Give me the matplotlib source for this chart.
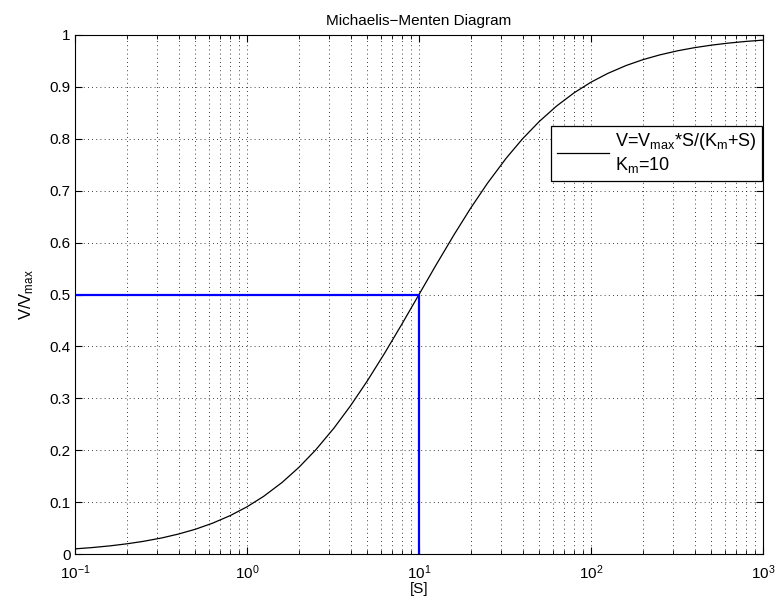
import matplotlib
matplotlib.use('Agg')
import matplotlib.pyplot as plt
from matplotlib.ticker import LogLocator, FixedLocator, NullFormatter

plt.rcParams['font.family'] = ['Liberation Sans', 'DejaVu Sans']
plt.rcParams['mathtext.fontset'] = 'custom'
plt.rcParams['mathtext.rm'] = 'Liberation Sans'
plt.rcParams['mathtext.it'] = 'Liberation Sans'
plt.rcParams['mathtext.default'] = 'regular'

# substrate concentration [S] and relative rate V/Vmax (Km = 10)
s_vals = [0.1, 0.125, 0.16, 0.2, 0.25, 0.32, 0.4, 0.5, 0.63, 0.8,
          1, 1.25, 1.6, 2, 2.5, 3.2, 4, 5, 6.3, 8,
          10, 12.5, 16, 20, 25, 32, 40, 50, 63, 80,
          100, 125, 160, 200, 250, 320, 400, 500, 630, 800, 1000]
v_vals = [0.0099, 0.0123, 0.0157, 0.0196, 0.0244, 0.0310, 0.0385, 0.0476, 0.0593, 0.0741,
          0.0909, 0.1111, 0.1379, 0.1667, 0.2, 0.2424, 0.2857, 0.3333, 0.3865, 0.4444,
          0.5, 0.5556, 0.6154, 0.6667, 0.7143, 0.7619, 0.8, 0.8333, 0.8630, 0.8889,
          0.9091, 0.9259, 0.9412, 0.9524, 0.9615, 0.9697, 0.9756, 0.9804, 0.9844, 0.9877, 0.9901]

# half-saturation marker: S = Km, V = 0.5
km_x = [0.1, 10, 10]
km_y = [0.5, 0.5, 0]

y_ticks = [0, 0.1, 0.2, 0.3, 0.4, 0.5, 0.6, 0.7, 0.8, 0.9, 1]
y_labels = ['0', '0.1', '0.2', '0.3', '0.4', '0.5', '0.6', '0.7', '0.8', '0.9', '1']

fig = plt.figure(figsize=(7.77, 6.08), dpi=100)
ax = fig.add_axes([75 / 777, 54 / 608, 688 / 777, 519 / 608])

ax.plot(s_vals, v_vals, color='k', lw=0.9,
        label='V=V$_{max}$*S/(K$_m$+S)\nK$_m$=10')
ax.plot(km_x, km_y, color='#0000ff', lw=1.6)

ax.set_xscale('log')
ax.set_xlim(0.1, 1000)
ax.set_ylim(0, 1)
ax.yaxis.set_major_locator(FixedLocator(y_ticks))
ax.set_yticklabels(y_labels)
ax.xaxis.set_major_locator(LogLocator(base=10, numticks=10))
ax.xaxis.set_minor_locator(LogLocator(base=10, subs=range(2, 10), numticks=50))
ax.xaxis.set_minor_formatter(NullFormatter())

grid_style = dict(color='k', linestyle=(0, (1, 4)), linewidth=0.6)
ax.grid(True, which='major', **grid_style)
ax.grid(True, which='minor', axis='x', **grid_style)

ax.tick_params(which='both', direction='in', top=True, right=True, labelsize=11)
ax.tick_params(which='major', length=5, width=0.8)
ax.tick_params(which='minor', length=3, width=0.6)
ax.tick_params(axis='x', which='major', pad=7)
ax.tick_params(axis='y', which='major', pad=3)
for sp in ax.spines.values():
    sp.set_linewidth(0.8)

ax.set_title('Michaelis\u2212Menten Diagram', fontsize=11, pad=7)
ax.set_xlabel('[S]', fontsize=11, labelpad=0)
ax.set_ylabel('V/V$_{max}$', fontsize=12, labelpad=10)

leg = ax.legend(loc='upper right', bbox_to_anchor=(0.999, 0.825), fontsize=13,
                fancybox=False, framealpha=1, edgecolor='k', handlelength=2.9,
                borderpad=0.3, handletextpad=0.35, borderaxespad=0)
leg.get_frame().set_linewidth(0.9)

fig.savefig('out.png', dpi=100, facecolor='white')
